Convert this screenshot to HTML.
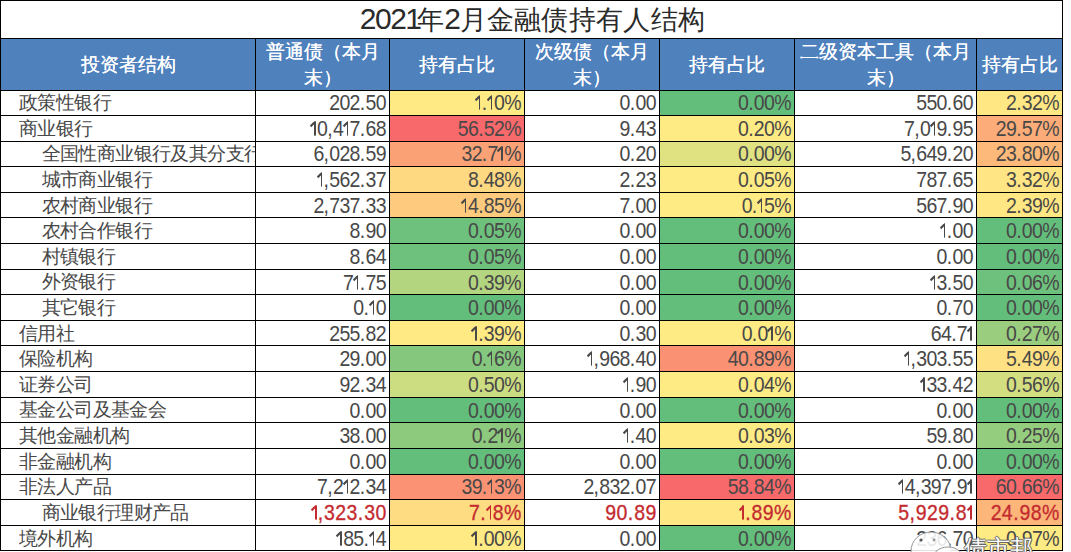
<!DOCTYPE html><html><head><meta charset="utf-8"><style>
html,body{margin:0;padding:0;background:#fff;}
body{width:1071px;height:552px;position:relative;overflow:hidden;font-family:"Liberation Sans",sans-serif;}
.ln{position:absolute;background:#000;}
.bg{position:absolute;}
.t{position:absolute;white-space:nowrap;overflow:hidden;color:#1a1a1a;}
.cn{font-size:18.9px;color:#484848;letter-spacing:-0.6px;}
.nm{font-size:19.5px;text-align:right;color:#484848;letter-spacing:-0.7px;transform:scaleY(1.1);}
.nm i{font-style:normal;}
.nm i.p{letter-spacing:0.3px;}
.nm i.z{letter-spacing:0;}
.nm i.one{display:inline-block;position:relative;width:6.5px;height:13.5px;vertical-align:baseline;}
.nm i.one::before{content:"";position:absolute;left:3.4px;top:0;width:1.6px;height:100%;background:currentColor;}
.nm i.one::after{content:"";position:absolute;left:-1.2px;top:0;width:5.4px;height:1.5px;background:currentColor;transform:rotate(-42deg);transform-origin:100% 50%;}
.nm.red{letter-spacing:0.4px;}
.nm.red i.p{letter-spacing:0.9px;}
.nm.red i.one{width:6.25px;}
.hd{position:absolute;color:#fff;font-size:19px;text-shadow:0.25px 0 0 #fff;text-align:center;line-height:26px;}
.red{color:#c42b30 !important;-webkit-text-stroke:0.3px #c42b30;}
.title{position:absolute;left:1.5px;top:0;width:1062px;height:38px;text-align:center;font-size:27px;line-height:38px;color:#2a2a2a;letter-spacing:0.3px;}
.title b{font-weight:normal;font-size:30px;letter-spacing:-1.5px;}
.title b i{font-style:normal;letter-spacing:-5px;}
</style></head><body>

<div class="title"><b>202<i>1</i></b>年<b>2</b>月金融债持有人结构</div>
<div class="bg" style="left:0;top:38px;width:1062px;height:52px;background:#4f81bd"></div>
<div class="hd" style="left:0.5px;top:38.5px;width:255.0px;line-height:52.0px">投资者结构</div>
<div class="hd" style="left:255.5px;top:39.0px;width:134.0px;">普通债（本月<br>末）</div>
<div class="hd" style="left:389.5px;top:38.5px;width:135.0px;line-height:52.0px">持有占比</div>
<div class="hd" style="left:524.5px;top:39.0px;width:135.0px;">次级债（本月<br>末）</div>
<div class="hd" style="left:659.5px;top:38.5px;width:135.0px;line-height:52.0px">持有占比</div>
<div class="hd" style="left:794.5px;top:39.0px;width:182.0px;">二级资本工具（本月<br>末）</div>
<div class="hd" style="left:976.5px;top:38.5px;width:86.0px;line-height:52.0px">持有占比</div>
<div class="bg" style="left:389px;top:90px;width:135px;height:25px;background:rgb(255,234,132)"></div>
<div class="bg" style="left:659px;top:90px;width:135px;height:25px;background:rgb(99,190,123)"></div>
<div class="bg" style="left:976px;top:90px;width:86px;height:25px;background:rgb(255,232,131)"></div>
<div class="bg" style="left:389px;top:115px;width:135px;height:26px;background:rgb(248,105,107)"></div>
<div class="bg" style="left:659px;top:115px;width:135px;height:26px;background:rgb(255,235,132)"></div>
<div class="bg" style="left:976px;top:115px;width:86px;height:26px;background:rgb(252,172,120)"></div>
<div class="bg" style="left:389px;top:141px;width:135px;height:25px;background:rgb(251,161,118)"></div>
<div class="bg" style="left:659px;top:141px;width:135px;height:25px;background:rgb(224,226,130)"></div>
<div class="bg" style="left:976px;top:141px;width:86px;height:25px;background:rgb(252,185,122)"></div>
<div class="bg" style="left:389px;top:166px;width:135px;height:26px;background:rgb(254,217,129)"></div>
<div class="bg" style="left:659px;top:166px;width:135px;height:26px;background:rgb(255,235,132)"></div>
<div class="bg" style="left:976px;top:166px;width:86px;height:26px;background:rgb(255,229,131)"></div>
<div class="bg" style="left:389px;top:192px;width:135px;height:25px;background:rgb(253,202,126)"></div>
<div class="bg" style="left:659px;top:192px;width:135px;height:25px;background:rgb(255,235,132)"></div>
<div class="bg" style="left:976px;top:192px;width:86px;height:25px;background:rgb(255,231,131)"></div>
<div class="bg" style="left:389px;top:217px;width:135px;height:26px;background:rgb(109,193,124)"></div>
<div class="bg" style="left:659px;top:217px;width:135px;height:26px;background:rgb(99,190,123)"></div>
<div class="bg" style="left:976px;top:217px;width:86px;height:26px;background:rgb(100,190,123)"></div>
<div class="bg" style="left:389px;top:243px;width:135px;height:26px;background:rgb(109,193,124)"></div>
<div class="bg" style="left:659px;top:243px;width:135px;height:26px;background:rgb(99,190,123)"></div>
<div class="bg" style="left:976px;top:243px;width:86px;height:26px;background:rgb(99,190,123)"></div>
<div class="bg" style="left:389px;top:269px;width:135px;height:25px;background:rgb(180,213,128)"></div>
<div class="bg" style="left:659px;top:269px;width:135px;height:25px;background:rgb(99,190,123)"></div>
<div class="bg" style="left:976px;top:269px;width:86px;height:25px;background:rgb(110,193,124)"></div>
<div class="bg" style="left:389px;top:294px;width:135px;height:26px;background:rgb(99,190,123)"></div>
<div class="bg" style="left:659px;top:294px;width:135px;height:26px;background:rgb(99,190,123)"></div>
<div class="bg" style="left:976px;top:294px;width:86px;height:26px;background:rgb(100,190,123)"></div>
<div class="bg" style="left:389px;top:320px;width:135px;height:25px;background:rgb(255,234,132)"></div>
<div class="bg" style="left:659px;top:320px;width:135px;height:25px;background:rgb(255,235,132)"></div>
<div class="bg" style="left:976px;top:320px;width:86px;height:25px;background:rgb(154,206,126)"></div>
<div class="bg" style="left:389px;top:345px;width:135px;height:26px;background:rgb(132,199,125)"></div>
<div class="bg" style="left:659px;top:345px;width:135px;height:26px;background:rgb(250,145,115)"></div>
<div class="bg" style="left:976px;top:345px;width:86px;height:26px;background:rgb(254,225,130)"></div>
<div class="bg" style="left:389px;top:371px;width:135px;height:26px;background:rgb(203,220,129)"></div>
<div class="bg" style="left:659px;top:371px;width:135px;height:26px;background:rgb(255,235,132)"></div>
<div class="bg" style="left:976px;top:371px;width:86px;height:26px;background:rgb(211,222,129)"></div>
<div class="bg" style="left:389px;top:397px;width:135px;height:25px;background:rgb(99,190,123)"></div>
<div class="bg" style="left:659px;top:397px;width:135px;height:25px;background:rgb(99,190,123)"></div>
<div class="bg" style="left:976px;top:397px;width:86px;height:25px;background:rgb(99,190,123)"></div>
<div class="bg" style="left:389px;top:422px;width:135px;height:26px;background:rgb(142,202,125)"></div>
<div class="bg" style="left:659px;top:422px;width:135px;height:26px;background:rgb(255,235,132)"></div>
<div class="bg" style="left:976px;top:422px;width:86px;height:26px;background:rgb(149,205,126)"></div>
<div class="bg" style="left:389px;top:448px;width:135px;height:26px;background:rgb(99,190,123)"></div>
<div class="bg" style="left:659px;top:448px;width:135px;height:26px;background:rgb(99,190,123)"></div>
<div class="bg" style="left:976px;top:448px;width:86px;height:26px;background:rgb(99,190,123)"></div>
<div class="bg" style="left:389px;top:474px;width:135px;height:25px;background:rgb(250,146,115)"></div>
<div class="bg" style="left:659px;top:474px;width:135px;height:25px;background:rgb(248,105,107)"></div>
<div class="bg" style="left:976px;top:474px;width:86px;height:25px;background:rgb(248,105,107)"></div>
<div class="bg" style="left:389px;top:499px;width:135px;height:26px;background:rgb(254,220,129)"></div>
<div class="bg" style="left:659px;top:499px;width:135px;height:26px;background:rgb(255,231,131)"></div>
<div class="bg" style="left:976px;top:499px;width:86px;height:26px;background:rgb(252,182,122)"></div>
<div class="bg" style="left:389px;top:525px;width:135px;height:25px;background:rgb(255,234,132)"></div>
<div class="bg" style="left:659px;top:525px;width:135px;height:25px;background:rgb(99,190,123)"></div>
<div class="bg" style="left:976px;top:525px;width:86px;height:25px;background:rgb(255,235,132)"></div>
<div class="t cn" style="left:19.0px;top:90.1px;width:236.5px;height:25.6px;line-height:25.6px">政策性银行</div>
<div class="t nm" style="left:255.5px;top:90.2px;width:131.0px;height:25.6px;line-height:25.6px">202<i class="p">.</i>5<i class="z">0</i></div>
<div class="t nm" style="left:389.5px;top:90.2px;width:132.0px;height:25.6px;line-height:25.6px"><i class="one"></i><i class="p">.</i><i class="one"></i>0<i class="z">%</i></div>
<div class="t nm" style="left:524.5px;top:90.2px;width:132.0px;height:25.6px;line-height:25.6px">0<i class="p">.</i>0<i class="z">0</i></div>
<div class="t nm" style="left:659.5px;top:90.2px;width:132.0px;height:25.6px;line-height:25.6px">0<i class="p">.</i>00<i class="z">%</i></div>
<div class="t nm" style="left:794.5px;top:90.2px;width:179.0px;height:25.6px;line-height:25.6px">550<i class="p">.</i>6<i class="z">0</i></div>
<div class="t nm" style="left:976.5px;top:90.2px;width:83.0px;height:25.6px;line-height:25.6px">2<i class="p">.</i>32<i class="z">%</i></div>
<div class="t cn" style="left:19.0px;top:115.7px;width:236.5px;height:25.6px;line-height:25.6px">商业银行</div>
<div class="t nm" style="left:255.5px;top:115.8px;width:131.0px;height:25.6px;line-height:25.6px"><i class="one"></i>0<i class="p">,</i>4<i class="one"></i>7<i class="p">.</i>6<i class="z">8</i></div>
<div class="t nm" style="left:389.5px;top:115.8px;width:132.0px;height:25.6px;line-height:25.6px">56<i class="p">.</i>52<i class="z">%</i></div>
<div class="t nm" style="left:524.5px;top:115.8px;width:132.0px;height:25.6px;line-height:25.6px">9<i class="p">.</i>4<i class="z">3</i></div>
<div class="t nm" style="left:659.5px;top:115.8px;width:132.0px;height:25.6px;line-height:25.6px">0<i class="p">.</i>20<i class="z">%</i></div>
<div class="t nm" style="left:794.5px;top:115.8px;width:179.0px;height:25.6px;line-height:25.6px">7<i class="p">,</i>0<i class="one"></i>9<i class="p">.</i>9<i class="z">5</i></div>
<div class="t nm" style="left:976.5px;top:115.8px;width:83.0px;height:25.6px;line-height:25.6px">29<i class="p">.</i>57<i class="z">%</i></div>
<div class="t cn" style="left:41.5px;top:141.3px;width:214.0px;height:25.6px;line-height:25.6px">全国性商业银行及其分支行</div>
<div class="t nm" style="left:255.5px;top:141.4px;width:131.0px;height:25.6px;line-height:25.6px">6<i class="p">,</i>028<i class="p">.</i>5<i class="z">9</i></div>
<div class="t nm" style="left:389.5px;top:141.4px;width:132.0px;height:25.6px;line-height:25.6px">32<i class="p">.</i>7<i class="one"></i><i class="z">%</i></div>
<div class="t nm" style="left:524.5px;top:141.4px;width:132.0px;height:25.6px;line-height:25.6px">0<i class="p">.</i>2<i class="z">0</i></div>
<div class="t nm" style="left:659.5px;top:141.4px;width:132.0px;height:25.6px;line-height:25.6px">0<i class="p">.</i>00<i class="z">%</i></div>
<div class="t nm" style="left:794.5px;top:141.4px;width:179.0px;height:25.6px;line-height:25.6px">5<i class="p">,</i>649<i class="p">.</i>2<i class="z">0</i></div>
<div class="t nm" style="left:976.5px;top:141.4px;width:83.0px;height:25.6px;line-height:25.6px">23<i class="p">.</i>80<i class="z">%</i></div>
<div class="t cn" style="left:41.5px;top:166.9px;width:214.0px;height:25.6px;line-height:25.6px">城市商业银行</div>
<div class="t nm" style="left:255.5px;top:167.0px;width:131.0px;height:25.6px;line-height:25.6px"><i class="one"></i><i class="p">,</i>562<i class="p">.</i>3<i class="z">7</i></div>
<div class="t nm" style="left:389.5px;top:167.0px;width:132.0px;height:25.6px;line-height:25.6px">8<i class="p">.</i>48<i class="z">%</i></div>
<div class="t nm" style="left:524.5px;top:167.0px;width:132.0px;height:25.6px;line-height:25.6px">2<i class="p">.</i>2<i class="z">3</i></div>
<div class="t nm" style="left:659.5px;top:167.0px;width:132.0px;height:25.6px;line-height:25.6px">0<i class="p">.</i>05<i class="z">%</i></div>
<div class="t nm" style="left:794.5px;top:167.0px;width:179.0px;height:25.6px;line-height:25.6px">787<i class="p">.</i>6<i class="z">5</i></div>
<div class="t nm" style="left:976.5px;top:167.0px;width:83.0px;height:25.6px;line-height:25.6px">3<i class="p">.</i>32<i class="z">%</i></div>
<div class="t cn" style="left:41.5px;top:192.5px;width:214.0px;height:25.6px;line-height:25.6px">农村商业银行</div>
<div class="t nm" style="left:255.5px;top:192.6px;width:131.0px;height:25.6px;line-height:25.6px">2<i class="p">,</i>737<i class="p">.</i>3<i class="z">3</i></div>
<div class="t nm" style="left:389.5px;top:192.6px;width:132.0px;height:25.6px;line-height:25.6px"><i class="one"></i>4<i class="p">.</i>85<i class="z">%</i></div>
<div class="t nm" style="left:524.5px;top:192.6px;width:132.0px;height:25.6px;line-height:25.6px">7<i class="p">.</i>0<i class="z">0</i></div>
<div class="t nm" style="left:659.5px;top:192.6px;width:132.0px;height:25.6px;line-height:25.6px">0<i class="p">.</i><i class="one"></i>5<i class="z">%</i></div>
<div class="t nm" style="left:794.5px;top:192.6px;width:179.0px;height:25.6px;line-height:25.6px">567<i class="p">.</i>9<i class="z">0</i></div>
<div class="t nm" style="left:976.5px;top:192.6px;width:83.0px;height:25.6px;line-height:25.6px">2<i class="p">.</i>39<i class="z">%</i></div>
<div class="t cn" style="left:41.5px;top:218.2px;width:214.0px;height:25.6px;line-height:25.6px">农村合作银行</div>
<div class="t nm" style="left:255.5px;top:218.2px;width:131.0px;height:25.6px;line-height:25.6px">8<i class="p">.</i>9<i class="z">0</i></div>
<div class="t nm" style="left:389.5px;top:218.2px;width:132.0px;height:25.6px;line-height:25.6px">0<i class="p">.</i>05<i class="z">%</i></div>
<div class="t nm" style="left:524.5px;top:218.2px;width:132.0px;height:25.6px;line-height:25.6px">0<i class="p">.</i>0<i class="z">0</i></div>
<div class="t nm" style="left:659.5px;top:218.2px;width:132.0px;height:25.6px;line-height:25.6px">0<i class="p">.</i>00<i class="z">%</i></div>
<div class="t nm" style="left:794.5px;top:218.2px;width:179.0px;height:25.6px;line-height:25.6px"><i class="one"></i><i class="p">.</i>0<i class="z">0</i></div>
<div class="t nm" style="left:976.5px;top:218.2px;width:83.0px;height:25.6px;line-height:25.6px">0<i class="p">.</i>00<i class="z">%</i></div>
<div class="t cn" style="left:41.5px;top:243.8px;width:214.0px;height:25.6px;line-height:25.6px">村镇银行</div>
<div class="t nm" style="left:255.5px;top:243.9px;width:131.0px;height:25.6px;line-height:25.6px">8<i class="p">.</i>6<i class="z">4</i></div>
<div class="t nm" style="left:389.5px;top:243.9px;width:132.0px;height:25.6px;line-height:25.6px">0<i class="p">.</i>05<i class="z">%</i></div>
<div class="t nm" style="left:524.5px;top:243.9px;width:132.0px;height:25.6px;line-height:25.6px">0<i class="p">.</i>0<i class="z">0</i></div>
<div class="t nm" style="left:659.5px;top:243.9px;width:132.0px;height:25.6px;line-height:25.6px">0<i class="p">.</i>00<i class="z">%</i></div>
<div class="t nm" style="left:794.5px;top:243.9px;width:179.0px;height:25.6px;line-height:25.6px">0<i class="p">.</i>0<i class="z">0</i></div>
<div class="t nm" style="left:976.5px;top:243.9px;width:83.0px;height:25.6px;line-height:25.6px">0<i class="p">.</i>00<i class="z">%</i></div>
<div class="t cn" style="left:41.5px;top:269.4px;width:214.0px;height:25.6px;line-height:25.6px">外资银行</div>
<div class="t nm" style="left:255.5px;top:269.5px;width:131.0px;height:25.6px;line-height:25.6px">7<i class="one"></i><i class="p">.</i>7<i class="z">5</i></div>
<div class="t nm" style="left:389.5px;top:269.5px;width:132.0px;height:25.6px;line-height:25.6px">0<i class="p">.</i>39<i class="z">%</i></div>
<div class="t nm" style="left:524.5px;top:269.5px;width:132.0px;height:25.6px;line-height:25.6px">0<i class="p">.</i>0<i class="z">0</i></div>
<div class="t nm" style="left:659.5px;top:269.5px;width:132.0px;height:25.6px;line-height:25.6px">0<i class="p">.</i>00<i class="z">%</i></div>
<div class="t nm" style="left:794.5px;top:269.5px;width:179.0px;height:25.6px;line-height:25.6px"><i class="one"></i>3<i class="p">.</i>5<i class="z">0</i></div>
<div class="t nm" style="left:976.5px;top:269.5px;width:83.0px;height:25.6px;line-height:25.6px">0<i class="p">.</i>06<i class="z">%</i></div>
<div class="t cn" style="left:41.5px;top:295.0px;width:214.0px;height:25.6px;line-height:25.6px">其它银行</div>
<div class="t nm" style="left:255.5px;top:295.1px;width:131.0px;height:25.6px;line-height:25.6px">0<i class="p">.</i><i class="one"></i><i class="z">0</i></div>
<div class="t nm" style="left:389.5px;top:295.1px;width:132.0px;height:25.6px;line-height:25.6px">0<i class="p">.</i>00<i class="z">%</i></div>
<div class="t nm" style="left:524.5px;top:295.1px;width:132.0px;height:25.6px;line-height:25.6px">0<i class="p">.</i>0<i class="z">0</i></div>
<div class="t nm" style="left:659.5px;top:295.1px;width:132.0px;height:25.6px;line-height:25.6px">0<i class="p">.</i>00<i class="z">%</i></div>
<div class="t nm" style="left:794.5px;top:295.1px;width:179.0px;height:25.6px;line-height:25.6px">0<i class="p">.</i>7<i class="z">0</i></div>
<div class="t nm" style="left:976.5px;top:295.1px;width:83.0px;height:25.6px;line-height:25.6px">0<i class="p">.</i>00<i class="z">%</i></div>
<div class="t cn" style="left:19.0px;top:320.6px;width:236.5px;height:25.6px;line-height:25.6px">信用社</div>
<div class="t nm" style="left:255.5px;top:320.7px;width:131.0px;height:25.6px;line-height:25.6px">255<i class="p">.</i>8<i class="z">2</i></div>
<div class="t nm" style="left:389.5px;top:320.7px;width:132.0px;height:25.6px;line-height:25.6px"><i class="one"></i><i class="p">.</i>39<i class="z">%</i></div>
<div class="t nm" style="left:524.5px;top:320.7px;width:132.0px;height:25.6px;line-height:25.6px">0<i class="p">.</i>3<i class="z">0</i></div>
<div class="t nm" style="left:659.5px;top:320.7px;width:132.0px;height:25.6px;line-height:25.6px">0<i class="p">.</i>0<i class="one"></i><i class="z">%</i></div>
<div class="t nm" style="left:794.5px;top:320.7px;width:179.0px;height:25.6px;line-height:25.6px">64<i class="p">.</i>7<i class="one"></i></div>
<div class="t nm" style="left:976.5px;top:320.7px;width:83.0px;height:25.6px;line-height:25.6px">0<i class="p">.</i>27<i class="z">%</i></div>
<div class="t cn" style="left:19.0px;top:346.2px;width:236.5px;height:25.6px;line-height:25.6px">保险机构</div>
<div class="t nm" style="left:255.5px;top:346.3px;width:131.0px;height:25.6px;line-height:25.6px">29<i class="p">.</i>0<i class="z">0</i></div>
<div class="t nm" style="left:389.5px;top:346.3px;width:132.0px;height:25.6px;line-height:25.6px">0<i class="p">.</i><i class="one"></i>6<i class="z">%</i></div>
<div class="t nm" style="left:524.5px;top:346.3px;width:132.0px;height:25.6px;line-height:25.6px"><i class="one"></i><i class="p">,</i>968<i class="p">.</i>4<i class="z">0</i></div>
<div class="t nm" style="left:659.5px;top:346.3px;width:132.0px;height:25.6px;line-height:25.6px">40<i class="p">.</i>89<i class="z">%</i></div>
<div class="t nm" style="left:794.5px;top:346.3px;width:179.0px;height:25.6px;line-height:25.6px"><i class="one"></i><i class="p">,</i>303<i class="p">.</i>5<i class="z">5</i></div>
<div class="t nm" style="left:976.5px;top:346.3px;width:83.0px;height:25.6px;line-height:25.6px">5<i class="p">.</i>49<i class="z">%</i></div>
<div class="t cn" style="left:19.0px;top:371.8px;width:236.5px;height:25.6px;line-height:25.6px">证券公司</div>
<div class="t nm" style="left:255.5px;top:371.9px;width:131.0px;height:25.6px;line-height:25.6px">92<i class="p">.</i>3<i class="z">4</i></div>
<div class="t nm" style="left:389.5px;top:371.9px;width:132.0px;height:25.6px;line-height:25.6px">0<i class="p">.</i>50<i class="z">%</i></div>
<div class="t nm" style="left:524.5px;top:371.9px;width:132.0px;height:25.6px;line-height:25.6px"><i class="one"></i><i class="p">.</i>9<i class="z">0</i></div>
<div class="t nm" style="left:659.5px;top:371.9px;width:132.0px;height:25.6px;line-height:25.6px">0<i class="p">.</i>04<i class="z">%</i></div>
<div class="t nm" style="left:794.5px;top:371.9px;width:179.0px;height:25.6px;line-height:25.6px"><i class="one"></i>33<i class="p">.</i>4<i class="z">2</i></div>
<div class="t nm" style="left:976.5px;top:371.9px;width:83.0px;height:25.6px;line-height:25.6px">0<i class="p">.</i>56<i class="z">%</i></div>
<div class="t cn" style="left:19.0px;top:397.4px;width:236.5px;height:25.6px;line-height:25.6px">基金公司及基金会</div>
<div class="t nm" style="left:255.5px;top:397.5px;width:131.0px;height:25.6px;line-height:25.6px">0<i class="p">.</i>0<i class="z">0</i></div>
<div class="t nm" style="left:389.5px;top:397.5px;width:132.0px;height:25.6px;line-height:25.6px">0<i class="p">.</i>00<i class="z">%</i></div>
<div class="t nm" style="left:524.5px;top:397.5px;width:132.0px;height:25.6px;line-height:25.6px">0<i class="p">.</i>0<i class="z">0</i></div>
<div class="t nm" style="left:659.5px;top:397.5px;width:132.0px;height:25.6px;line-height:25.6px">0<i class="p">.</i>00<i class="z">%</i></div>
<div class="t nm" style="left:794.5px;top:397.5px;width:179.0px;height:25.6px;line-height:25.6px">0<i class="p">.</i>0<i class="z">0</i></div>
<div class="t nm" style="left:976.5px;top:397.5px;width:83.0px;height:25.6px;line-height:25.6px">0<i class="p">.</i>00<i class="z">%</i></div>
<div class="t cn" style="left:19.0px;top:423.0px;width:236.5px;height:25.6px;line-height:25.6px">其他金融机构</div>
<div class="t nm" style="left:255.5px;top:423.1px;width:131.0px;height:25.6px;line-height:25.6px">38<i class="p">.</i>0<i class="z">0</i></div>
<div class="t nm" style="left:389.5px;top:423.1px;width:132.0px;height:25.6px;line-height:25.6px">0<i class="p">.</i>2<i class="one"></i><i class="z">%</i></div>
<div class="t nm" style="left:524.5px;top:423.1px;width:132.0px;height:25.6px;line-height:25.6px"><i class="one"></i><i class="p">.</i>4<i class="z">0</i></div>
<div class="t nm" style="left:659.5px;top:423.1px;width:132.0px;height:25.6px;line-height:25.6px">0<i class="p">.</i>03<i class="z">%</i></div>
<div class="t nm" style="left:794.5px;top:423.1px;width:179.0px;height:25.6px;line-height:25.6px">59<i class="p">.</i>8<i class="z">0</i></div>
<div class="t nm" style="left:976.5px;top:423.1px;width:83.0px;height:25.6px;line-height:25.6px">0<i class="p">.</i>25<i class="z">%</i></div>
<div class="t cn" style="left:19.0px;top:448.6px;width:236.5px;height:25.6px;line-height:25.6px">非金融机构</div>
<div class="t nm" style="left:255.5px;top:448.7px;width:131.0px;height:25.6px;line-height:25.6px">0<i class="p">.</i>0<i class="z">0</i></div>
<div class="t nm" style="left:389.5px;top:448.7px;width:132.0px;height:25.6px;line-height:25.6px">0<i class="p">.</i>00<i class="z">%</i></div>
<div class="t nm" style="left:524.5px;top:448.7px;width:132.0px;height:25.6px;line-height:25.6px">0<i class="p">.</i>0<i class="z">0</i></div>
<div class="t nm" style="left:659.5px;top:448.7px;width:132.0px;height:25.6px;line-height:25.6px">0<i class="p">.</i>00<i class="z">%</i></div>
<div class="t nm" style="left:794.5px;top:448.7px;width:179.0px;height:25.6px;line-height:25.6px">0<i class="p">.</i>0<i class="z">0</i></div>
<div class="t nm" style="left:976.5px;top:448.7px;width:83.0px;height:25.6px;line-height:25.6px">0<i class="p">.</i>00<i class="z">%</i></div>
<div class="t cn" style="left:19.0px;top:474.2px;width:236.5px;height:25.6px;line-height:25.6px">非法人产品</div>
<div class="t nm" style="left:255.5px;top:474.4px;width:131.0px;height:25.6px;line-height:25.6px">7<i class="p">,</i>2<i class="one"></i>2<i class="p">.</i>3<i class="z">4</i></div>
<div class="t nm" style="left:389.5px;top:474.4px;width:132.0px;height:25.6px;line-height:25.6px">39<i class="p">.</i><i class="one"></i>3<i class="z">%</i></div>
<div class="t nm" style="left:524.5px;top:474.4px;width:132.0px;height:25.6px;line-height:25.6px">2<i class="p">,</i>832<i class="p">.</i>0<i class="z">7</i></div>
<div class="t nm" style="left:659.5px;top:474.4px;width:132.0px;height:25.6px;line-height:25.6px">58<i class="p">.</i>84<i class="z">%</i></div>
<div class="t nm" style="left:794.5px;top:474.4px;width:179.0px;height:25.6px;line-height:25.6px"><i class="one"></i>4<i class="p">,</i>397<i class="p">.</i>9<i class="one"></i></div>
<div class="t nm" style="left:976.5px;top:474.4px;width:83.0px;height:25.6px;line-height:25.6px">60<i class="p">.</i>66<i class="z">%</i></div>
<div class="t cn" style="left:41.5px;top:499.9px;width:214.0px;height:25.6px;line-height:25.6px">商业银行理财产品</div>
<div class="t nm red" style="left:255.5px;top:500.0px;width:130.8px;height:25.6px;line-height:25.6px"><i class="one"></i><i class="p">,</i>323<i class="p">.</i>3<i class="z">0</i></div>
<div class="t nm red" style="left:389.5px;top:500.0px;width:131.8px;height:25.6px;line-height:25.6px">7<i class="p">.</i><i class="one"></i>8<i class="z">%</i></div>
<div class="t nm red" style="left:524.5px;top:500.0px;width:131.8px;height:25.6px;line-height:25.6px">90<i class="p">.</i>8<i class="z">9</i></div>
<div class="t nm red" style="left:659.5px;top:500.0px;width:131.8px;height:25.6px;line-height:25.6px"><i class="one"></i><i class="p">.</i>89<i class="z">%</i></div>
<div class="t nm red" style="left:794.5px;top:500.0px;width:178.8px;height:25.6px;line-height:25.6px">5<i class="p">,</i>929<i class="p">.</i>8<i class="one"></i></div>
<div class="t nm red" style="left:976.5px;top:500.0px;width:82.8px;height:25.6px;line-height:25.6px">24<i class="p">.</i>98<i class="z">%</i></div>
<div class="t cn" style="left:19.0px;top:525.5px;width:236.5px;height:25.6px;line-height:25.6px">境外机构</div>
<div class="t nm" style="left:255.5px;top:525.6px;width:131.0px;height:25.6px;line-height:25.6px"><i class="one"></i>85<i class="p">.</i><i class="one"></i><i class="z">4</i></div>
<div class="t nm" style="left:389.5px;top:525.6px;width:132.0px;height:25.6px;line-height:25.6px"><i class="one"></i><i class="p">.</i>00<i class="z">%</i></div>
<div class="t nm" style="left:524.5px;top:525.6px;width:132.0px;height:25.6px;line-height:25.6px">0<i class="p">.</i>0<i class="z">0</i></div>
<div class="t nm" style="left:659.5px;top:525.6px;width:132.0px;height:25.6px;line-height:25.6px">0<i class="p">.</i>00<i class="z">%</i></div>
<div class="t nm" style="left:794.5px;top:525.6px;width:179.0px;height:25.6px;line-height:25.6px">236<i class="p">.</i>7<i class="z">0</i></div>
<div class="t nm" style="left:976.5px;top:525.6px;width:83.0px;height:25.6px;line-height:25.6px">0<i class="p">.</i>97<i class="z">%</i></div>
<div class="ln" style="left:0px;top:0px;width:1px;height:551px"></div>
<div class="ln" style="left:255px;top:38px;width:1px;height:513px"></div>
<div class="ln" style="left:389px;top:38px;width:1px;height:513px"></div>
<div class="ln" style="left:524px;top:38px;width:1px;height:513px"></div>
<div class="ln" style="left:659px;top:38px;width:1px;height:513px"></div>
<div class="ln" style="left:794px;top:38px;width:1px;height:513px"></div>
<div class="ln" style="left:976px;top:38px;width:1px;height:513px"></div>
<div class="ln" style="left:1062px;top:0px;width:1px;height:551px"></div>
<div class="ln" style="left:0;top:0px;width:1063px;height:1px"></div>
<div class="ln" style="left:0;top:38px;width:1063px;height:1px"></div>
<div class="ln" style="left:0;top:90px;width:1063px;height:1px"></div>
<div class="ln" style="left:0;top:115px;width:1063px;height:1px"></div>
<div class="ln" style="left:0;top:141px;width:1063px;height:1px"></div>
<div class="ln" style="left:0;top:166px;width:1063px;height:1px"></div>
<div class="ln" style="left:0;top:192px;width:1063px;height:1px"></div>
<div class="ln" style="left:0;top:217px;width:1063px;height:1px"></div>
<div class="ln" style="left:0;top:243px;width:1063px;height:1px"></div>
<div class="ln" style="left:0;top:269px;width:1063px;height:1px"></div>
<div class="ln" style="left:0;top:294px;width:1063px;height:1px"></div>
<div class="ln" style="left:0;top:320px;width:1063px;height:1px"></div>
<div class="ln" style="left:0;top:345px;width:1063px;height:1px"></div>
<div class="ln" style="left:0;top:371px;width:1063px;height:1px"></div>
<div class="ln" style="left:0;top:397px;width:1063px;height:1px"></div>
<div class="ln" style="left:0;top:422px;width:1063px;height:1px"></div>
<div class="ln" style="left:0;top:448px;width:1063px;height:1px"></div>
<div class="ln" style="left:0;top:474px;width:1063px;height:1px"></div>
<div class="ln" style="left:0;top:499px;width:1063px;height:1px"></div>
<div class="ln" style="left:0;top:525px;width:1063px;height:1px"></div>
<div class="ln" style="left:0;top:550px;width:1063px;height:1px"></div>
<svg style="position:absolute;left:0;top:0" width="1071" height="552" viewBox="0 0 1071 552">
<g fill="#fff" fill-opacity="0.88" stroke="#8a8a8a" stroke-width="0.9">
<ellipse cx="931" cy="551" rx="20" ry="19"/>
<ellipse cx="948" cy="562" rx="17" ry="15"/>
</g>
<circle cx="921" cy="540" r="1.6" fill="#555"/>
<circle cx="934" cy="540" r="1.4" fill="#999"/>
</svg>
<div style="position:absolute;left:964px;top:533px;font-size:23px;line-height:30px;color:#fff;letter-spacing:0px;text-shadow:1px 0 0 #666,-1px 0 0 #666,0 1px 0 #666,0 -1px 0 #666">债市邦</div>
</body></html>
